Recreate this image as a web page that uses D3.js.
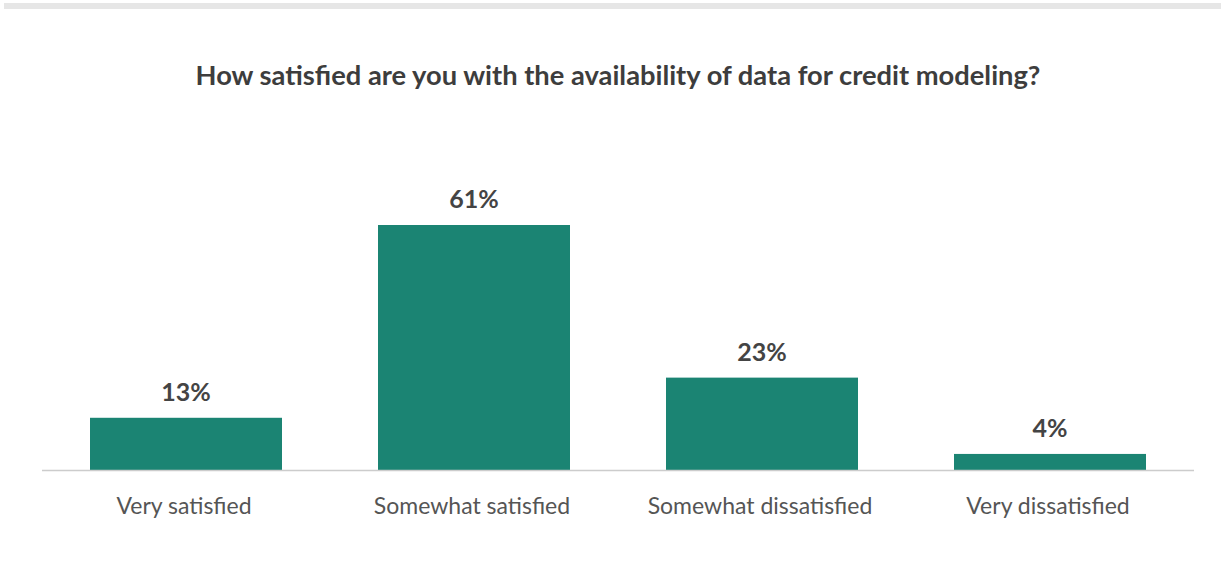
<!DOCTYPE html>
<html><head><meta charset="utf-8">
<script src="https://cdn.jsdelivr.net/npm/d3@7/dist/d3.min.js"></script>
<style>body{margin:0;background:#fff;}svg{display:block;font-family:Lato,sans-serif;}</style>
</head><body><svg id="c" width="1221" height="567"></svg>
<script>
const categories = ["Very satisfied","Somewhat satisfied","Somewhat dissatisfied","Very dissatisfied"];
const values = [13, 61, 23, 4];
const labels = ["13%","61%","23%","4%"];
const title = "How satisfied are you with the availability of data for credit modeling?";

const svg = d3.select("#c");
svg.append("rect").attr("x",4).attr("y",3).attr("width",1217).attr("height",6).attr("fill","#e6e6e6");
svg.append("text").attr("x",618).attr("y",85).attr("text-anchor","middle")
  .attr("font-size",27.3).attr("font-weight",700).attr("fill","#3d3d3d").text(title);

const x = d3.scaleBand().domain(categories).range([42,1194]).paddingInner(1/3).paddingOuter(1/6);
const y = d3.scaleLinear().domain([0,61]).range([470,225]);

svg.selectAll("rect.bar").data(values).join("rect").attr("class","bar")
  .attr("x",(d,i)=>x(categories[i])).attr("width",x.bandwidth())
  .attr("y",d=>y(d)).attr("height",d=>y(0)-y(d)).attr("fill","#1b8473");

svg.append("line").attr("x1",42).attr("x2",1194).attr("y1",470.5).attr("y2",470.5)
  .attr("stroke","#cccccc").attr("stroke-width",1.5);

svg.selectAll("text.val").data(values).join("text").attr("class","val")
  .attr("x",(d,i)=>x(categories[i])+x.bandwidth()/2).attr("y",d=>y(d)-17)
  .attr("text-anchor","middle").attr("font-size",25).attr("font-weight",700).attr("fill","#444")
  .text((d,i)=>labels[i]);

svg.selectAll("text.cat").data(categories).join("text").attr("class","cat")
  .attr("x",d=>x(d)+x.bandwidth()/2 - 2).attr("y",514)
  .attr("text-anchor","middle").attr("font-size",23).attr("fill","#555").text(d=>d);
</script></body></html>
